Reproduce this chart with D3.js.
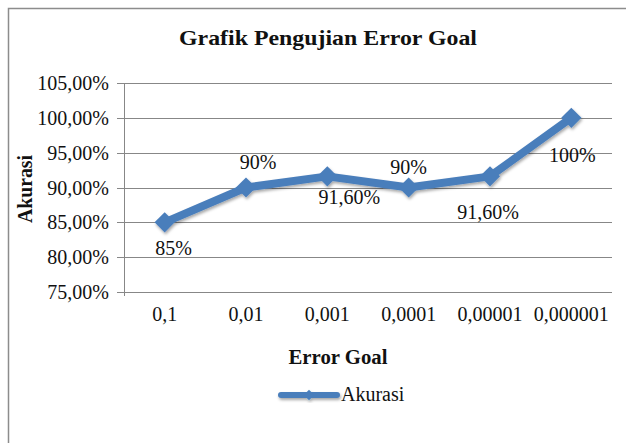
<!DOCTYPE html>
<html lang="en">
<head>
<meta charset="UTF-8">
<title>Grafik Pengujian Error Goal</title>
<script src="https://d3js.org/d3.v7.min.js"></script>
<style>
    body{ margin:0; background:#fff; }
</style>
</head>
<body>
<svg id="chart" width="626" height="443"></svg>
<script>
    // data
    let errorGoal = ["0,1","0,01","0,001","0,0001","0,00001","0,000001"]
    let akurasi = [85, 90, 91.6, 90, 91.6, 100]
    let labels = ["85%","90%","91,60%","90%","91,60%","100%"]
    let yTicks = [75, 80, 85, 90, 95, 100, 105]

    // label placement relative to each point (dx, dy of baseline)
    let labelOffset = [[9, 33], [12, -19], [22, 28], [0, -14], [-2, 43], [1, 44]]

    let svg = d3.select("#chart")
    let plotLeft = 124, plotRight = 612, plotTop = 83, plotBottom = 292
    let blue = "#4a7ebb"
    let serif = "'Liberation Serif', 'Times New Roman', Tinos, FreeSerif, serif"

    // chart border
    svg.append("rect")
        .attr("x", 8.5).attr("y", 8.5)
        .attr("width", 700).attr("height", 500)
        .attr("fill", "#fff")
        .attr("stroke", "#8c8c8c")
        .attr("stroke-width", 1.5)

    let x = d3.scaleBand().domain(errorGoal).range([plotLeft, plotRight])
    let y = d3.scaleLinear().domain([75, 105]).range([plotBottom, plotTop])

    // gridlines
    svg.append("g")
        .selectAll("line")
        .data(yTicks)
        .join("line")
        .attr("x1", plotLeft - 7).attr("x2", plotRight)
        .attr("y1", d => Math.round(y(d)) + 0.5)
        .attr("y2", d => Math.round(y(d)) + 0.5)
        .attr("stroke", "#878787")
        .attr("stroke-width", 1)

    // y axis line
    svg.append("line")
        .attr("x1", plotLeft + 0.5).attr("x2", plotLeft + 0.5)
        .attr("y1", plotTop).attr("y2", plotBottom + 4)
        .attr("stroke", "#878787")

    // y tick labels
    svg.append("g")
        .selectAll("text")
        .data(yTicks)
        .join("text")
        .attr("x", 109)
        .attr("y", d => y(d) + 7)
        .attr("text-anchor", "end")
        .attr("font-size", 20)
        .style("font-family", serif)
        .attr("fill", "#111")
        .text(d => d3.format(".2f")(d).replace(".", ",") + "%")

    // x tick labels
    svg.append("g")
        .selectAll("text")
        .data(errorGoal)
        .join("text")
        .attr("x", d => x(d) + x.bandwidth() / 2)
        .attr("y", 321)
        .attr("text-anchor", "middle")
        .attr("font-size", 20)
        .style("font-family", serif)
        .attr("fill", "#111")
        .text(d => d)

    // titles
    svg.append("text")
        .attr("x", 328).attr("y", 45)
        .attr("text-anchor", "middle")
        .attr("font-size", 22)
        .attr("font-weight", "bold")
        .style("font-family", serif)
        .attr("textLength", 298)
        .attr("lengthAdjust", "spacingAndGlyphs")
        .attr("fill", "#111")
        .text("Grafik Pengujian Error Goal")

    svg.append("text")
        .attr("x", 338).attr("y", 364)
        .attr("text-anchor", "middle")
        .attr("font-size", 20)
        .attr("font-weight", "bold")
        .style("font-family", serif)
        .attr("textLength", 99)
        .attr("lengthAdjust", "spacingAndGlyphs")
        .attr("fill", "#111")
        .text("Error Goal")

    svg.append("text")
        .attr("transform", "translate(32,189) rotate(-90)")
        .attr("text-anchor", "middle")
        .attr("font-size", 20)
        .attr("font-weight", "bold")
        .style("font-family", serif)
        .attr("textLength", 68)
        .attr("lengthAdjust", "spacingAndGlyphs")
        .attr("fill", "#111")
        .text("Akurasi")

    // shadow
    let defs = svg.append("defs")
    let f = defs.append("filter").attr("id", "shadow")
        .attr("x", "-20%").attr("y", "-20%").attr("width", "140%").attr("height", "140%")
    f.append("feDropShadow")
        .attr("dx", 1).attr("dy", 2).attr("stdDeviation", 1.5)
        .attr("flood-color", "#000").attr("flood-opacity", 0.35)

    let cx = (d, i) => x(errorGoal[i]) + x.bandwidth() / 2
    let line = d3.line().x((d, i) => cx(d, i)).y(d => y(d))

    let series = svg.append("g").attr("filter", "url(#shadow)")
    series.append("path")
        .datum(akurasi)
        .attr("d", line)
        .attr("fill", "none")
        .attr("stroke", blue)
        .attr("stroke-width", 8)
        .attr("stroke-linejoin", "round")

    series.selectAll("path.marker")
        .data(akurasi)
        .join("path")
        .attr("class", "marker")
        .attr("d", d3.symbol().type(d3.symbolDiamond2).size(260))
        .attr("transform", (d, i) => "translate(" + cx(d, i) + "," + y(d) + ")")
        .attr("fill", blue)

    // data labels
    svg.append("g")
        .selectAll("text")
        .data(akurasi)
        .join("text")
        .attr("x", (d, i) => cx(d, i) + labelOffset[i][0])
        .attr("y", (d, i) => y(d) + labelOffset[i][1])
        .attr("text-anchor", "middle")
        .attr("font-size", 20)
        .style("font-family", serif)
        .attr("fill", "#111")
        .text((d, i) => labels[i])

    // legend
    let lg = svg.append("g").attr("filter", "url(#shadow)")
    lg.append("line")
        .attr("x1", 281).attr("x2", 337)
        .attr("y1", 395).attr("y2", 395)
        .attr("stroke", blue)
        .attr("stroke-width", 6)
        .attr("stroke-linecap", "round")
    lg.append("path")
        .attr("d", d3.symbol().type(d3.symbolDiamond2).size(70))
        .attr("transform", "translate(309,395)")
        .attr("fill", blue)
    svg.append("text")
        .attr("x", 341).attr("y", 401)
        .attr("font-size", 20)
        .style("font-family", serif)
        .attr("fill", "#111")
        .text("Akurasi")
</script>
</body>
</html>
